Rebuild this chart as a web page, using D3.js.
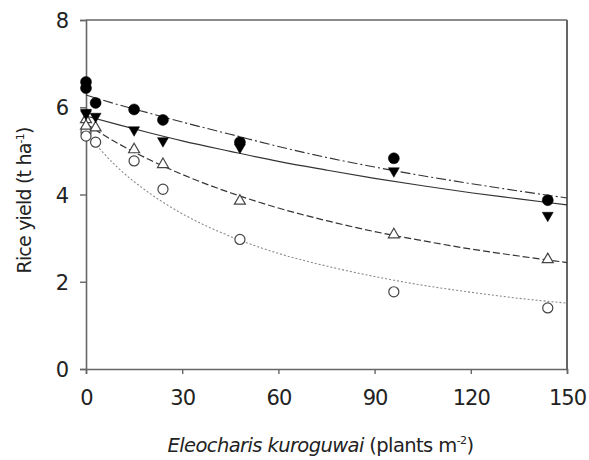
<!DOCTYPE html>
<html>
<head>
<meta charset="utf-8">
<script src="https://cdn.jsdelivr.net/npm/d3@7"></script>
<style>
  body { margin: 0; background: #fff; }
  svg { display: block; font-family: "DejaVu Sans", Verdana, sans-serif; }
</style>
</head>
<body>
<svg width="589" height="460"></svg>
<script>
var svg = d3.select("svg");

// weed densities (plants m-2); 0 appears twice (overlapping replicates)
var density = [0, 0, 3, 15, 24, 48, 96, 144];

// observed rice yields (t ha-1)
var yieldCircleFilled   = [6.58, 6.44, 6.10, 5.95, 5.71, 5.20, 4.83, 3.87];
var yieldTriangleFilled = [5.88, 5.85, 5.79, 5.48, 5.23, 5.08, 4.54, 3.52];
var yieldTriangleOpen   = [5.72, 5.57, 5.53, 5.03, 4.69, 3.85, 3.08, 2.51];
var yieldCircleOpen     = [5.43, 5.34, 5.20, 4.77, 4.12, 2.97, 1.77, 1.40];

// fitted curves
var fitX = [0, 10, 20, 30, 45, 60, 75, 90, 105, 120, 135, 150];
var fitCircleFilled   = [6.28, 6.06, 5.86, 5.66, 5.38, 5.10, 4.85, 4.63, 4.43, 4.25, 4.08, 3.92];
var fitTriangleFilled = [5.80, 5.60, 5.41, 5.23, 4.99, 4.76, 4.56, 4.37, 4.20, 4.04, 3.90, 3.76];
var fitTriangleOpen   = [5.62, 5.17, 4.79, 4.46, 4.04, 3.69, 3.40, 3.15, 2.94, 2.75, 2.59, 2.44];
var fitCircleOpen     = [5.40, 4.61, 4.02, 3.56, 3.04, 2.65, 2.36, 2.12, 1.92, 1.76, 1.62, 1.51];

var xTicks = [0, 30, 60, 90, 120, 150];
var yTicks = [0, 2, 4, 6, 8];

var mLeft = 86, mRight = 567, mTop = 20, mBottom = 369;

var x = d3.scaleLinear().domain([0, 150]).range([mLeft, mRight]);
var y = d3.scaleLinear().domain([0, 8]).range([mBottom, mTop]);

var axisColor = "#666";

// box top & right
svg.append("line")
  .attr("x1", x(0)).attr("x2", x(150)).attr("y1", y(8)).attr("y2", y(8))
  .attr("stroke", axisColor).attr("stroke-width", 1.6);
svg.append("line")
  .attr("x1", x(150)).attr("x2", x(150)).attr("y1", y(8)).attr("y2", y(0))
  .attr("stroke", axisColor).attr("stroke-width", 2);

var gx = svg.append("g")
  .attr("transform", "translate(0," + mBottom + ")")
  .call(d3.axisBottom(x).tickValues(xTicks).tickSizeOuter(0).tickSize(5).tickPadding(16));
var gy = svg.append("g")
  .attr("transform", "translate(" + mLeft + ",0)")
  .call(d3.axisLeft(y).tickValues(yTicks).tickSizeOuter(0).tickSize(6).tickPadding(12));

[gx, gy].forEach(function(g) {
  g.select(".domain").attr("stroke", axisColor).attr("stroke-width", 1.6);
  g.selectAll(".tick line").attr("stroke", axisColor).attr("stroke-width", 1.4);
  g.selectAll(".tick text")
    .attr("fill", "#222")
    .style("font-size", "21px")
    .style("letter-spacing", "-1px")
    .style("font-family", "'DejaVu Sans', Verdana, sans-serif");
});
gy.selectAll(".tick text").attr("dy", "0.36em");

// fitted curves
var line = d3.line()
  .x(function(d) { return x(d[0]); })
  .y(function(d) { return y(d[1]); })
  .curve(d3.curveMonotoneX);

var fits = [
  { v: fitCircleFilled,   dash: "10,3,2,3", color: "#333", w: 1.1 },
  { v: fitTriangleFilled, dash: null,       color: "#333", w: 1.2 },
  { v: fitTriangleOpen,   dash: "7,3",      color: "#333", w: 1.2 },
  { v: fitCircleOpen,     dash: "2,2",      color: "#888", w: 1.1 }
];

fits.forEach(function(f) {
  svg.append("path")
    .datum(fitX.map(function(d, i) { return [d, f.v[i]]; }))
    .attr("d", line)
    .attr("fill", "none")
    .attr("stroke", f.color)
    .attr("stroke-width", f.w)
    .attr("stroke-dasharray", f.dash);
});

// observed points
var series = [
  { v: yieldCircleOpen,     type: d3.symbolCircle,   size: 80, fill: "#fff", rot: 0 },
  { v: yieldTriangleOpen,   type: d3.symbolTriangle, size: 52, fill: "#fff", rot: 0 },
  { v: yieldTriangleFilled, type: d3.symbolTriangle, size: 52, fill: "#000", rot: 180 },
  { v: yieldCircleFilled,   type: d3.symbolCircle,   size: 95, fill: "#000", rot: 0 }
];

series.forEach(function(s) {
  svg.append("g").selectAll("path")
    .data(density.map(function(d, i) { return [d, s.v[i]]; }))
    .enter().append("path")
    .attr("d", d3.symbol().type(s.type).size(s.size))
    .attr("transform", function(d) {
      return "translate(" + x(d[0]) + "," + y(d[1]) + ") rotate(" + s.rot + ")";
    })
    .attr("fill", s.fill)
    .attr("stroke", s.fill === "#fff" ? "#444" : "#000")
    .attr("stroke-width", s.fill === "#fff" ? 1.2 : 0.5);
});

// axis titles
svg.append("text")
  .attr("transform", "translate(31," + ((mTop + mBottom) / 2 + 6) + ") rotate(-90)")
  .attr("text-anchor", "middle")
  .attr("fill", "#222")
  .style("font-size", "19px")
  .style("letter-spacing", "-0.8px")
  .html('Rice yield (t ha<tspan dy="-7" font-size="11">-1</tspan><tspan dy="7">)</tspan>');

svg.append("text")
  .attr("x", (mLeft + mRight) / 2 - 6)
  .attr("y", 452)
  .attr("text-anchor", "middle")
  .attr("fill", "#222")
  .style("font-size", "19.5px")
  .style("letter-spacing", "-0.6px")
  .html('<tspan font-style="italic">Eleocharis kuroguwai</tspan> (plants m<tspan dy="-8" font-size="11">-2</tspan><tspan dy="8">)</tspan>');
</script>
</body>
</html>
